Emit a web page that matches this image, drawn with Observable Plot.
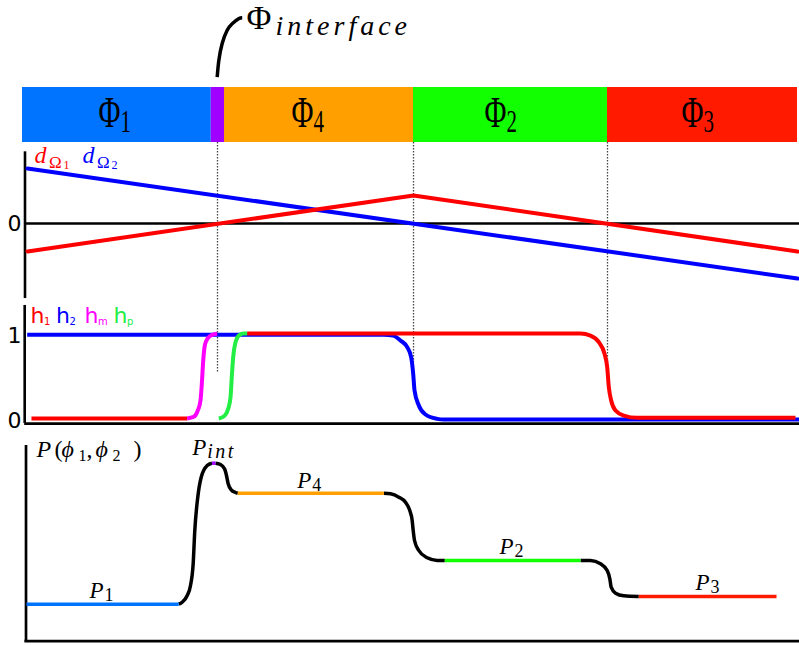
<!DOCTYPE html>
<html><head><meta charset="utf-8">
<script src="https://cdn.jsdelivr.net/npm/d3@7"></script>
<script src="https://cdn.jsdelivr.net/npm/@observablehq/plot@0.6"></script>
<style>
body{margin:0;background:#fff;}
#chart{position:relative;width:799px;height:645px;overflow:hidden;background:#fff;}
#chart svg{position:absolute;left:0;top:0;}
</style></head><body><div id="chart"></div>
<script>
// ---------- data ----------
// top bar (x: position 0..100)
const phaseSymbol = "Φ";
const phaseSub = ["1","4","2","3"];
const phaseStart = [0, 25.9, 50.13, 75.0];
const phaseEnd = [24.2, 50.13, 75.0, 99.36];
const phaseColors = ["#0074ff","#ff9f00","#11ff00","#ff1a00"];
const phaseLabelX = [12.56, 37.3, 62.05, 87.3];
const phaseLabelY = 0.273;
const interfaceSpan = [24.2, 25.9];
const interfaceColor = "#a000ff";
const interfaceName = "interface";
const interfaceLabelX = 28.72, interfaceLabelY = 2.06;
const leaderX = [24.96, 25.17, 25.6, 26.24, 26.88, 27.7, 28.17];
const leaderY = [1.187, 1.49, 1.8, 2.04, 2.16, 2.25, 2.27];
const boundaries = [25.0, 50.13, 75.0];
const boundaryBottom = [-4.2, -4.0, -4.0];

// panel 1: signed distances
const d1X = [0.64, 50.13, 99.36], d1Y = [-25, 25, -25];
const d2X = [0.64, 99.36], d2Y = [49.1, -49.1];
const dName = "d", dSubName = "Ω";
const dSub = ["1","2"], dLabelX = [1.54, 7.69], dLabelY = 53.6;
const dColors = ["#ff0000","#0000ff"];

// panel 2: indicator functions
const h1LowX = [1.15, 21.11], h1LowY = [0, 0];
const hmX = [21.11,21.96,22.47,22.82,22.99,23.17,23.37,23.76,24.32,24.96];
const hmY = [0,0.02,0.094,0.212,0.408,0.682,0.859,0.945,0.985,0.996];
const hpX = [25.17,25.9,26.37,26.67,26.83,27.01,27.31,27.73,28.29,28.8];
const hpY = [0,0.031,0.114,0.25,0.486,0.721,0.898,0.976,1.0,1.0];
const h1HighX = [28.8,71.54,72.82,73.89,74.62,74.96,75.17,75.47,76.03,77.09,78.81,99.1];
const h1HighY = [1.0,1.0,0.976,0.898,0.761,0.604,0.369,0.212,0.094,0.035,0.008,0.008];
const h2X = [0.6,46.3,47.5,48.46,49.32,49.83,50.09,50.26,50.81,51.67,53.17,54.0,99.6];
const h2Y = [0.985,0.985,0.975,0.918,0.839,0.72,0.525,0.329,0.153,0.047,-0.004,-0.012,-0.012];
const hName = "h";
const hSub = ["1","2","m","p"], hLabelX = [1.03, 4.3, 7.95, 11.67], hLabelY = 1.118;
const hColors = ["#ff0000","#0000ff","#ff00ff","#22ee44"];

// panel 3: P(phi1, phi2)
const p1X = [0.51, 20.03], p1Y = [0.363, 0.363];
const riseX = [20.03,20.47,21.12,21.54,21.88,22.09,22.47,22.91,23.68,24.3];
const riseY = [0.363,0.383,0.45,0.55,0.767,1.10,1.433,1.633,1.75,1.773];
const peakX = [24.3, 24.74], peakY = [1.773, 1.773];
const dipX = [24.74,25.38,25.9,26.15,26.37,26.76,27.31,27.6];
const dipY = [1.773,1.76,1.717,1.65,1.567,1.507,1.48,1.473];
const p4X = [27.6, 46.32], p4Y = [1.473, 1.473];
const drop1X = [46.32,47.18,48.25,49.1,49.65,49.96,50.09,50.26,50.81,51.88,53.17,54.14];
const drop1Y = [1.473,1.467,1.433,1.383,1.30,1.20,1.10,1.0,0.90,0.827,0.80,0.80];
const p2X = [54.14, 71.54], p2Y = [0.80, 0.80];
const drop2X = [71.54,72.82,74.1,74.96,75.3,75.47,76.03,77.09,79.01];
const drop2Y = [0.80,0.80,0.767,0.70,0.617,0.533,0.473,0.447,0.44];
const p3X = [79.01, 96.67], p3Y = [0.44, 0.44];
const pName = "P";
const pSub = ["1","int","4","2","3"];
const pLabelX = [8.6, 21.76, 35.22, 61.15, 86.28];
const pLabelY = [0.43, 1.86, 1.53, 0.87, 0.51];
const pTitleParts = ["P","(","ϕ","1",",","ϕ","2",")"];
const pTitleX = 1.79, pTitleY = 1.84;

// ---------- helpers ----------
const SERIF = "Liberation Serif";
const SANS = "DejaVu Sans";
const W = 799, H = 645;
const zip = (xs, ys) => xs.map((x, i) => ({x, y: ys[i]}));
function layer(y, marks) {
  return Plot.plot({
    width: W, height: H, marginTop: 0, marginBottom: 0, marginRight: 0, marginLeft: 24,
    x: {domain: [0, 100], range: [22, 802], axis: null},
    y, color: {type: "identity"},
    style: {background: "transparent", overflow: "visible"},
    marks
  });
}
function runs(data, parts) {
  return parts.map(r => Plot.text(data, {
    x: "x", y: "y", text: r.text, dx: r.dx ?? 0, dy: r.dy ?? 0,
    fontSize: r.size, fontStyle: r.italic ? "italic" : "normal",
    fontFamily: r.family ?? SERIF, fill: r.fill ?? "black",
    textAnchor: r.anchor ?? "start", lineAnchor: "bottom",
    ariaLabel: () => r.aria ?? "label"
  }));
}

// ---------- top layer: phase bar ----------
const phaseData = phaseSub.map((s, i) => ({x1: phaseStart[i], x2: phaseEnd[i], color: phaseColors[i], x: phaseLabelX[i], y: phaseLabelY, sub: s}));
const boundaryData = boundaries.map((b, i) => ({x: b, y2: boundaryBottom[i]}));
const barLayer = layer({domain: [0, 1], range: [142, 87], axis: null}, [
  Plot.ruleX(boundaryData, {x: "x", y1: 0, y2: "y2", stroke: "#444", strokeWidth: 1.3, strokeDasharray: "1.5,1.5"}),
  Plot.rect(phaseData, {x1: "x1", x2: "x2", y1: 0, y2: 1, fill: "color"}),
  Plot.rect([{x1: interfaceSpan[0], x2: interfaceSpan[1]}], {x1: "x1", x2: "x2", y1: 0, y2: 1, fill: interfaceColor}),
  ...runs(phaseData, [
    {text: () => phaseSymbol, size: 30, anchor: "end", aria: "phase-label"},
    {text: d => d.sub, size: 21, dy: 4.5, aria: "phase-label"}
  ]),
  Plot.line(zip(leaderX, leaderY), {x: "x", y: "y", curve: "natural", stroke: "black", strokeWidth: 3.5, strokeLinecap: "butt"}),
  ...runs([{x: interfaceLabelX, y: interfaceLabelY}], [
    {text: () => phaseSymbol, size: 34},
    {text: () => interfaceName, size: 28, italic: true, dx: 29, dy: 6, aria: "interface-sub"}
  ])
]);

// ---------- panel 1 ----------
const dData = dSub.map((s, i) => ({x: dLabelX[i], y: dLabelY, sub: s, color: dColors[i]}));
const panel1 = layer({domain: [-25, 25], range: [251, 195]}, [
  Plot.ruleX([0.32], {y1: -67, y2: 64, stroke: "black", strokeWidth: 2.6}),
  Plot.ruleY([0], {x1: 0.32, x2: 100, stroke: "black", strokeWidth: 2.6}),
  Plot.axisY({ticks: [0], tickFormat: d => String(d), tickSize: 0, tickPadding: 3, fontSize: 22, fontFamily: SANS, label: null, fill: "black"}),
  Plot.line(zip(d2X, d2Y), {x: "x", y: "y", stroke: dColors[1], strokeWidth: 4}),
  Plot.line(zip(d1X, d1Y), {x: "x", y: "y", stroke: dColors[0], strokeWidth: 4}),
  ...runs(dData, [
    {text: () => dName, size: 24, italic: true, fill: "color"},
    {text: () => dSubName, size: 17, dx: 14.5, dy: 4.5, fill: "color"},
    {text: d => d.sub, size: 12, dx: 29, dy: 6, fill: "color"}
  ])
]);

// ---------- panel 2 ----------
const hData = hSub.map((s, i) => ({x: hLabelX[i], y: hLabelY, sub: s, color: hColors[i]}));
const hLine = (xs, ys, c) => Plot.line(zip(xs, ys), {x: "x", y: "y", curve: "monotone-x", stroke: c, strokeWidth: 4, strokeLinecap: "butt"});
const panel2 = layer({domain: [0, 1], range: [418, 333]}, [
  Plot.ruleX([0.28], {y1: -0.06, y2: 1.33, stroke: "black", strokeWidth: 2.6}),
  Plot.ruleY([-0.06], {x1: 0.28, x2: 100, stroke: "black", strokeWidth: 2.6}),
  Plot.axisY({ticks: [0, 1], tickFormat: d => String(d), tickSize: 0, tickPadding: 3, fontSize: 22, fontFamily: SANS, label: null, fill: "black", dy: 2}),
  hLine(h2X, h2Y, hColors[1]),
  hLine(h1LowX, h1LowY, hColors[0]),
  hLine(h1HighX, h1HighY, hColors[0]),
  hLine(hmX, hmY, hColors[2]),
  hLine(hpX, hpY, hColors[3]),
  ...runs(hData, [
    {text: () => hName, size: 22, family: SANS, fill: "color"},
    {text: d => d.sub, size: 10, dx: 13.5, dy: 2, family: SANS, fill: "color"}
  ])
]);

// ---------- panel 3 ----------
const pLine = (xs, ys, c) => Plot.line(zip(xs, ys), {x: "x", y: "y", curve: "monotone-x", stroke: c, strokeWidth: 3.5, strokeLinecap: "butt"});
const pData = pSub.map((s, i) => ({x: pLabelX[i], y: pLabelY[i], sub: s}));
const titleOffsets = [0, 18, 25, 42, 50, 59, 76, 97];
const titleStyles = [
  {size: 24, italic: true}, {size: 24}, {size: 24, italic: true}, {size: 16, dy: 4},
  {size: 24}, {size: 24, italic: true}, {size: 16, dy: 4}, {size: 24}
];
const panel3 = layer({domain: [0, 2], range: [640, 440], axis: null}, [
  Plot.ruleX([0.45], {y1: -0.007, y2: 1.95, stroke: "black", strokeWidth: 2.7}),
  Plot.ruleY([-0.007], {x1: 0.3, x2: 100, stroke: "black", strokeWidth: 2.7}),
  pLine(riseX, riseY, "black"),
  pLine(dipX, dipY, "black"),
  pLine(drop1X, drop1Y, "black"),
  pLine(drop2X, drop2Y, "black"),
  pLine(p1X, p1Y, phaseColors[0]),
  pLine(peakX, peakY, interfaceColor),
  pLine(p4X, p4Y, phaseColors[1]),
  pLine(p2X, p2Y, phaseColors[2]),
  pLine(p3X, p3Y, phaseColors[3]),
  ...runs([{x: pTitleX, y: pTitleY}], pTitleParts.map((t, i) => ({text: () => t, dx: titleOffsets[i], ...titleStyles[i]}))),
  ...runs(pData, [
    {text: () => pName, size: 23, italic: true},
    {text: d => d.sub, size: 18, dx: 15, dy: 3.5, aria: "p-sub"}
  ])
]);

const chart = document.getElementById("chart");
[barLayer, panel1, panel2, panel3].forEach(s => chart.appendChild(s));

// typographic touches
d3.select(barLayer).selectAll('text[aria-label="phase-label"]')
  .attr("transform", function() { return (this.getAttribute("transform") || "") + " scale(1,1.5)"; });
d3.select(barLayer).selectAll('text[aria-label="interface-sub"]').attr("letter-spacing", 4);
d3.select(panel3).selectAll('text[aria-label="p-sub"]')
  .filter(function() { return this.textContent === "int"; })
  .attr("font-style", "italic").attr("font-size", 20).attr("letter-spacing", 2.5);
</script>
</body></html>
